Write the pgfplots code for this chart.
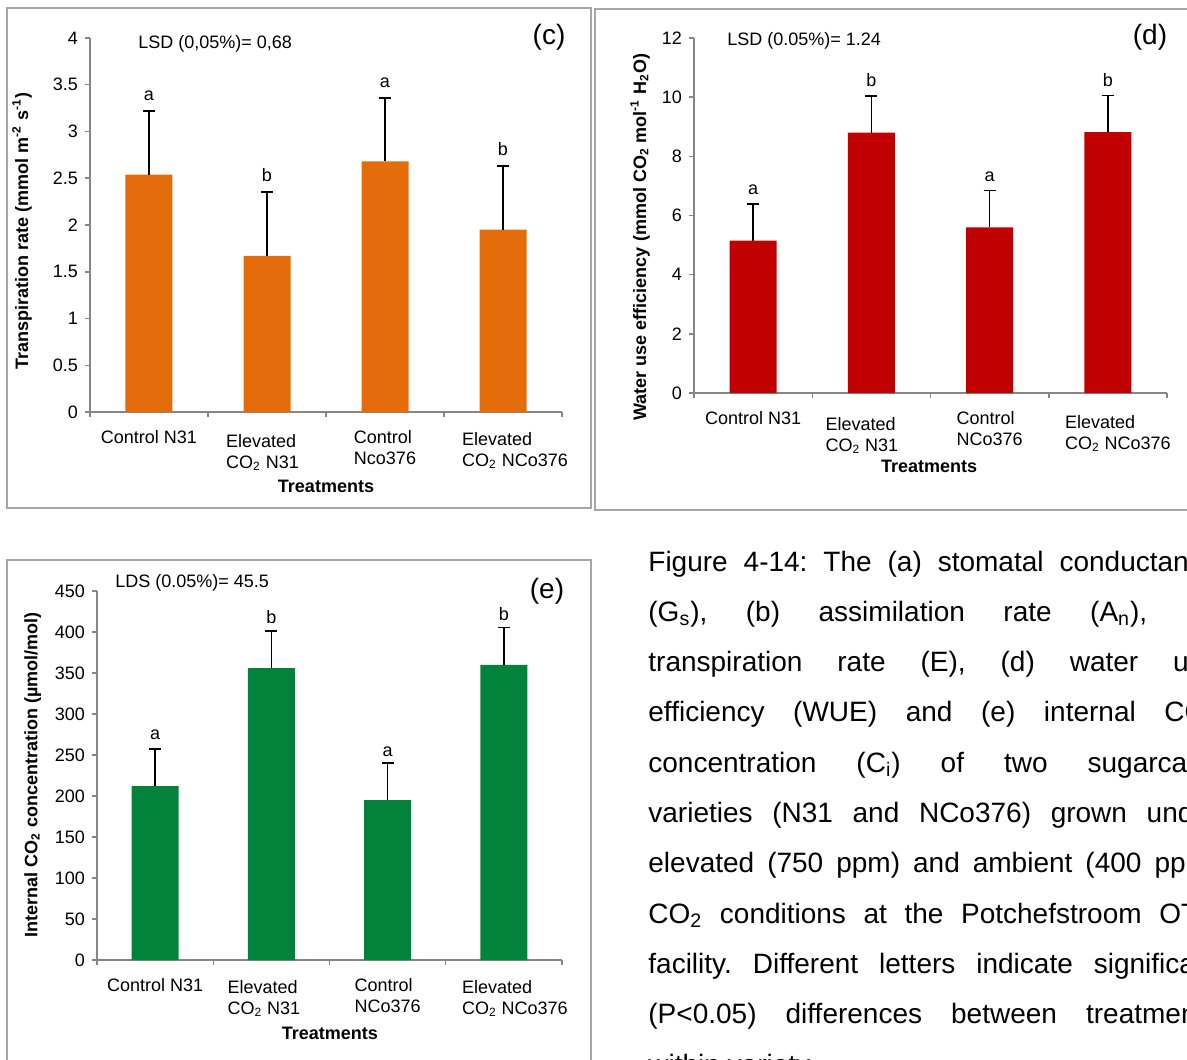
\documentclass[border=0pt]{standalone}
\usepackage{fontspec}
\setmainfont{Liberation Sans}
\usepackage{pgfplots}
\pgfplotsset{compat=1.18}
\definecolor{cOrange}{HTML}{E46C0A}
\definecolor{cRed}{HTML}{C00000}
\definecolor{cGreen}{HTML}{03823C}
\definecolor{axgray}{HTML}{868686}
\definecolor{framegray}{HTML}{A6A6A6}
\newcommand{\fs}{\fontsize{9}{10.5}\selectfont}
\tikzset{lt/.style={anchor=base, font=\fs, inner sep=0pt}}
\pgfplotsset{
  panel/.style={
    scale only axis, anchor=south west,
    xmin=0, xmax=4, ymin=0, enlargelimits=false, clip=false,
    axis x line*=bottom, axis y line*=left,
    axis line style={-, draw=axgray, line width=0.75pt},
    every outer x axis line/.append style={-},
    every outer y axis line/.append style={-},
    tick align=outside,
    tick style={draw=axgray, line width=0.75pt},
    major tick length=2.5pt,
    xtick={0,1,2,3,4}, xticklabels={},
    extra x ticks={0.5,1.5,2.5,3.5},
    extra x tick style={major tick length=0pt, tick style={draw=none}},
    xticklabel style={anchor=north, align=left, yshift=-5.5pt},
    tick label style={font=\fs, text=black},
    /pgf/number format/assume math mode=true,
    label style={font=\bfseries\fs},
    ylabel style={anchor=center},
    xlabel style={anchor=center},
    ybar, bar width=23.5pt,
    error bars/y dir=plus, error bars/y explicit,
    error bars/error mark=|,
    error bars/error bar style={draw=black, line width=0.8pt},
    error bars/error mark options={draw=black, line width=0.8pt, mark size=3pt},
  },
}
\frenchspacing
\begin{document}
\begin{tikzpicture}[x=0.5pt,y=-0.5pt]
\useasboundingbox (0,0) rectangle (1187,1059);
\clip (0,0) rectangle (1187,1059);
% frames
\draw[framegray, line width=1pt] (7,8) rectangle (591,508);
\draw[framegray, line width=1pt] (595,9) rectangle (1210,510);
\draw[framegray, line width=1pt] (7,560) rectangle (591,1090);

% ---------- (c) ----------
\begin{axis}[panel, at={(45pt,-206pt)}, width=236pt, height=187pt,
  ymax=4, ytick={0,0.5,1,1.5,2,2.5,3,3.5,4},
  extra x tick labels={{Control N31},
    {\rule{0pt}{8.5pt}Elevated\\CO\textsubscript{2} N31\hspace*{4.5pt}},
    {Control\\Nco376},
    {\hspace*{12pt}\rule{0pt}{7.5pt}Elevated\\\hspace*{12pt}CO\textsubscript{2} NCo376}},
  xlabel={Treatments}, xlabel style={at={(axis description cs:0.5,-0.198)}},
  ylabel={Transpiration rate (mmol m\textsuperscript{-2} s\textsuperscript{-1})},
  ylabel style={at={(axis description cs:-0.144,0.484)}}]
\addplot[fill=cOrange, draw=none] coordinates {(0.5,2.54) +- (0,0.68) (1.5,1.67) +- (0,0.68) (2.5,2.68) +- (0,0.68) (3.5,1.95) +- (0,0.68)};
\node[lt, yshift=5.2pt] at (axis cs:0.5,3.22) {a};
\node[lt, yshift=5.2pt] at (axis cs:1.5,2.35) {b};
\node[lt, yshift=5.2pt] at (axis cs:2.5,3.36) {a};
\node[lt, yshift=5.2pt] at (axis cs:3.5,2.63) {b};
\end{axis}
\node[anchor=west, font=\fs, inner sep=0pt] at (138,44) {LSD (0,05\%)= 0,68};
\node[font=\fontsize{14}{16}\selectfont, inner sep=0pt] at (549,37) {(c)};

% ---------- (d) ----------
\begin{axis}[panel, at={(347pt,-196.5pt)}, width=236.5pt, height=177.5pt,
  ymax=12, ytick={0,2,4,6,8,10,12},
  extra x tick labels={{Control N31},
    {\rule{0pt}{9.5pt}Elevated\\CO\textsubscript{2} N31\hspace*{9.5pt}},
    {Control\\NCo376},
    {\hspace*{10pt}\rule{0pt}{8.5pt}Elevated\\\hspace*{10pt}CO\textsubscript{2} NCo376}},
  xlabel={Treatments}, xlabel style={at={(axis description cs:0.497,-0.206)}},
  ylabel={Water use efficiency (mmol CO\textsubscript{2} mol\textsuperscript{-1} H\textsubscript{2}O)},
  ylabel style={at={(axis description cs:-0.114,0.439)}}]
\addplot[fill=cRed, draw=none] coordinates {(0.5,5.15) +- (0,1.24) (1.5,8.8) +- (0,1.24) (2.5,5.6) +- (0,1.24) (3.5,8.82) +- (0,1.24)};
\node[lt, yshift=4.5pt] at (axis cs:0.5,6.39) {a};
\node[lt, yshift=4.5pt] at (axis cs:1.5,10.04) {b};
\node[lt, yshift=4.5pt] at (axis cs:2.5,6.84) {a};
\node[lt, yshift=4.5pt] at (axis cs:3.5,10.06) {b};
\end{axis}
\node[anchor=west, font=\fs, inner sep=0pt] at (727,41) {LSD (0.05\%)= 1.24};
\node[font=\fontsize{14}{16}\selectfont, inner sep=0pt] at (1150,37) {(d)};

% ---------- (e) ----------
\begin{axis}[panel, at={(48.5pt,-480pt)}, width=232.5pt, height=184.5pt,
  ymax=450, ytick={0,50,100,150,200,250,300,350,400,450},
  extra x tick labels={{Control N31},
    {\rule{0pt}{7.5pt}Elevated\\CO\textsubscript{2} N31\hspace*{7.5pt}},
    {Control\\NCo376},
    {\hspace*{11pt}\rule{0pt}{7.5pt}Elevated\\\hspace*{11pt}CO\textsubscript{2} NCo376}},
  xlabel={Treatments}, xlabel style={at={(axis description cs:0.501,-0.198)}},
  ylabel={Internal CO\textsubscript{2} concentration (µmol/mol)},
  ylabel style={at={(axis description cs:-0.138,0.501)}}]
\addplot[fill=cGreen, draw=none] coordinates {(0.5,212) +- (0,45.5) (1.5,356) +- (0,45.5) (2.5,195) +- (0,45.5) (3.5,360) +- (0,45.5)};
\node[lt, yshift=4.5pt] at (axis cs:0.5,257.5) {a};
\node[lt, yshift=3.5pt] at (axis cs:1.5,401.5) {b};
\node[lt, yshift=3pt] at (axis cs:2.5,240.5) {a};
\node[lt, yshift=3.5pt] at (axis cs:3.5,405.5) {b};
\end{axis}
\node[anchor=west, font=\fs, inner sep=0pt] at (115,583) {LDS (0.05\%)= 45.5};
\node[font=\fontsize{14}{16}\selectfont, inner sep=0pt] at (547,591) {(e)};

% ---------- caption ----------
\begin{scope}[every node/.style={anchor=base west, inner sep=0pt, font=\fontsize{14}{16}\selectfont}]
\node at (648,571.0) {\makebox[285pt][s]{Figure 4-14: The (a) stomatal conductance}};
\node at (648,621.3) {\makebox[285pt][s]{(G\textsubscript{s}), (b) assimilation rate (A\textsubscript{n}), (c)}};
\node at (648,671.6) {\makebox[285pt][s]{transpiration rate (E), (d) water use}};
\node at (648,721.9) {\makebox[285pt][s]{efficiency (WUE) and (e) internal CO\textsubscript{2}}};
\node at (648,772.2) {\makebox[285pt][s]{concentration (C\textsubscript{i}) of two sugarcane}};
\node at (648,822.5) {\makebox[285pt][s]{varieties (N31 and NCo376) grown under}};
\node at (648,872.8) {\makebox[285pt][s]{elevated (750 ppm) and ambient (400 ppm)}};
\node at (648,923.1) {\makebox[285pt][s]{CO\textsubscript{2} conditions at the Potchefstroom OTC}};
\node at (648,973.4) {\makebox[285pt][s]{facility. Different letters indicate significant}};
\node at (648,1023.7) {\makebox[285pt][s]{(P<0.05) differences between treatments}};
\node at (648,1074.0) {within variety.};
\end{scope}
\end{tikzpicture}
\end{document}
